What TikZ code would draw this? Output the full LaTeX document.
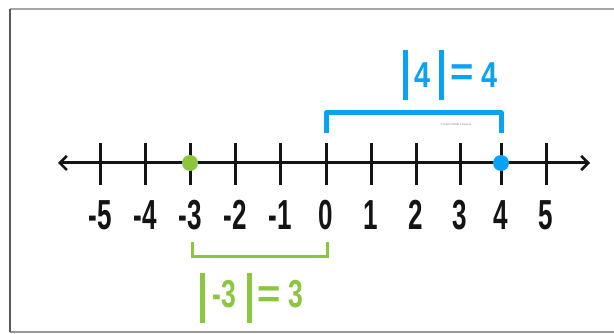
\documentclass[tikz,border=0pt]{standalone}
\usepackage{fontspec}
\setmainfont{Liberation Sans}
\newfontfamily\condfont{Liberation Sans}[FakeStretch=0.62]
\newfontfamily\midfont{Liberation Sans}[FakeStretch=0.68]
\newfontfamily\widefont{Liberation Sans}[FakeStretch=0.8]
\newfontfamily\eqfont{Liberation Sans}
\usetikzlibrary{arrows.meta}
\definecolor{absblue}{RGB}{10,162,245}
\definecolor{absgreen}{RGB}{138,198,62}
\definecolor{axisblack}{RGB}{20,20,20}
\newcommand{\eqsign}{{\eqfont\bfseries\fontsize{40}{40}\selectfont =}}
\tikzset{
  axisline/.style={line width=3pt,draw=axisblack,{Straight Barb[length=7pt,width=14pt,line width=2.6pt]}-{Straight Barb[length=7pt,width=14pt,line width=2.6pt]}},
  tickline/.style={line width=3pt,draw=axisblack},
  numlabel/.style={inner sep=0pt,text=axisblack,font=\condfont\bfseries\fontsize{42}{42}\selectfont},
  bluebracket/.style={line width=5pt,draw=absblue,line join=round},
  greenbracket/.style={line width=3pt,draw=absgreen,line join=miter},
  bluetxt/.style={inner sep=0pt,text=absblue,font=\widefont\bfseries\fontsize{36}{36}\selectfont},
  greentxt/.style={inner sep=0pt,text=absgreen,font=\midfont\bfseries\fontsize{39}{39}\selectfont},
  dotmark/.style={circle,inner sep=0pt,minimum size=16pt},
  framebar/.style={line width=2pt}
}
\begin{document}
\begin{tikzpicture}[x=1pt,y=-1pt]
\useasboundingbox (0,0) rectangle (614,334);
\fill[white] (0,0) rectangle (614,334);
% frame
\coordinate (ftl) at (9.5,9);
\coordinate (ftr) at (614,9);
\coordinate (fbl) at (9.5,332);
\coordinate (fbr) at (614,332);
\draw[framebar,draw=black!35] (ftl) -- (ftr);
\draw[framebar,draw=black!40] (fbl) -- (fbr);
\draw[framebar,draw=black!65] (ftl) -- (fbl);
% axis
\coordinate (larrow) at (58,163);
\coordinate (rarrow) at (590,163);
\draw[axisline] (larrow) -- (rarrow);
\foreach \i/\xx in {-5/100,-4/145,-3/190,-2/235,-1/280,0/326,1/371,2/416,3/460,4/501,5/546}{
  \coordinate (ttop\i) at (\xx,143);
  \coordinate (tbot\i) at (\xx,185);
  \draw[tickline] (ttop\i) -- (tbot\i);
  \node[numlabel,anchor=base] (lab\i) at (\xx,230) {\i};
}
% dots
\node[dotmark,fill=absgreen] (dotg) at (190,163) {};
\node[dotmark,fill=absblue] (dotb) at (501,163) {};
% blue bracket
\coordinate (bb1) at (326,133);
\coordinate (bb2) at (326,113);
\coordinate (bb3) at (501,113);
\coordinate (bb4) at (501,133);
\draw[bluebracket] (bb1) -- (bb2) -- (bb3) -- (bb4);
\node[inner sep=0pt,text=black!45,font=\fontsize{3}{3}\selectfont] (wm) at (456,124) {\textcopyright\ Kate's Math Lessons};
% green bracket
\coordinate (gb1) at (192,242);
\coordinate (gb2) at (192,256.5);
\coordinate (gb3) at (327,256.5);
\coordinate (gb4) at (327,242);
\draw[greenbracket] (gb1) -- (gb2) -- (gb3) -- (gb4);
% labels
\node[bluetxt,anchor=base west] (abs4) at (403,88) {\rule[-12pt]{5pt}{50pt}\hspace{6pt}4\hspace{9pt}\rule[-12pt]{5pt}{50pt}\hspace{6pt}\raisebox{2pt}{\eqsign}\hspace{8pt}4};
\node[greentxt,anchor=base west] (abs3) at (200,307) {\rule[-16pt]{5pt}{50pt}\hspace{7pt}-3\hspace{11pt}\rule[-16pt]{5pt}{50pt}\hspace{6pt}\eqsign\hspace{7pt}3};
\end{tikzpicture}
\end{document}
